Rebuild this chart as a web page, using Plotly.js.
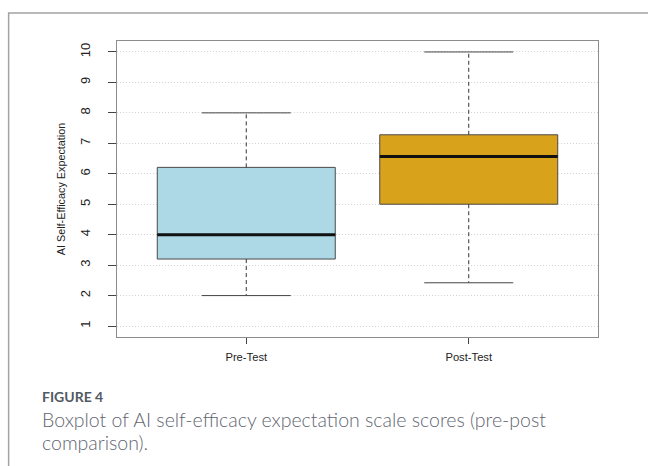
<!DOCTYPE html>
<html>
<head>
<meta charset="utf-8">
<script src="https://cdn.plot.ly/plotly-3.0.1.min.js"></script>
<style>html,body{margin:0;padding:0;background:#fff;}#chart{width:648px;height:466px;}</style>
</head>
<body>
<div id="chart"></div>
<script>
// ---- data ----
const categories = ["Pre-Test", "Post-Test"];
const lowerWhisker = [2.0, 2.42];
const q1Values = [3.2, 5.0];
const medianValues = [4.0, 6.57];
const q3Values = [6.21, 7.28];
const upperWhisker = [8.0, 10.0];
const yTickValues = [1, 2, 3, 4, 5, 6, 7, 8, 9, 10];
const boxColors = ["#ADD8E6", "#D9A21B"];

const xPos = categories.map((c, i) => i);
const BOX_HALF = 0.4, CAP_HALF = 0.2;
const traces = [];

// boxes (whiskers drawn separately so they can be dashed)
categories.forEach((c, i) => {
  traces.push({
    type: "box",
    x: [xPos[i]],
    q1: [q1Values[i]],
    median: [medianValues[i]],
    q3: [q3Values[i]],
    lowerfence: [q1Values[i]],
    upperfence: [q3Values[i]],
    width: 2 * BOX_HALF,
    fillcolor: boxColors[i],
    line: { color: "#4a4a4a", width: 1 },
    whiskerwidth: 0,
    boxpoints: false,
    hoverinfo: "skip",
    showlegend: false,
    name: c
  });
});

// dashed whiskers, caps and thick medians
const wx = [], wy = [];
const cx = [], cy = [];
const mx = [], my = [];
categories.forEach((c, i) => {
  const x = xPos[i];
  wx.push(x, x, null, x, x, null);
  wy.push(q3Values[i], upperWhisker[i], null, q1Values[i], lowerWhisker[i], null);
  cx.push(x - CAP_HALF, x + CAP_HALF, null, x - CAP_HALF, x + CAP_HALF, null);
  cy.push(upperWhisker[i], upperWhisker[i], null, lowerWhisker[i], lowerWhisker[i], null);
  mx.push(x - BOX_HALF, x + BOX_HALF, null);
  my.push(medianValues[i], medianValues[i], null);
});
traces.push({ type: "scatter", mode: "lines", x: wx, y: wy, line: { color: "#333", width: 1, dash: "4px,3px" }, hoverinfo: "skip", showlegend: false });
traces.push({ type: "scatter", mode: "lines", x: cx, y: cy, line: { color: "#444", width: 1 }, hoverinfo: "skip", showlegend: false });
traces.push({ type: "scatter", mode: "lines", x: mx, y: my, line: { color: "#111", width: 3 }, hoverinfo: "skip", showlegend: false });

const L = 117, R = 597.7, T = 40.7, B = 337.3;
const W = 648, H = 466;
const px2x = p => (p - L) / (R - L);
const px2y = p => (B - p) / (B - T);

const chartFont = "Liberation Sans, Arial, Helvetica, sans-serif";
const capFont = "Lato, Open Sans, sans-serif";

const layout = {
  width: W, height: H,
  margin: { l: L, r: W - R, t: T, b: H - B, pad: 0 },
  paper_bgcolor: "#fff",
  plot_bgcolor: "#fff",
  boxmode: "overlay",
  showlegend: false,
  xaxis: {
    range: [-0.581, 1.581],
    tickmode: "array",
    tickvals: xPos,
    ticktext: categories,
    ticks: "outside", ticklen: 6, tickcolor: "#444", tickwidth: 1,
    showgrid: false, zeroline: false,
    showline: true, mirror: true, linecolor: "#8c8c8c", linewidth: 1,
    tickfont: { family: chartFont, size: 11.2, color: "#222" },
    ticklabelstandoff: 4,
    fixedrange: true
  },
  yaxis: {
    range: [0.64, 10.36],
    tickmode: "array",
    tickvals: yTickValues,
    ticktext: yTickValues.map(String),
    tickangle: -90,
    ticks: "outside", ticklen: 8, tickcolor: "#444", tickwidth: 1,
    showgrid: true, gridcolor: "#d4d4d4", griddash: "1px,2px", gridwidth: 1,
    zeroline: false,
    showline: true, mirror: true, linecolor: "#8c8c8c", linewidth: 1,
    tickfont: { family: chartFont, size: 13, color: "#222" },
    ticklabelstandoff: 13,
    title: { text: "AI Self-Efficacy Expectation", font: { family: chartFont, size: 10.8, color: "#222" }, standoff: 10 },
    fixedrange: true
  },
  shapes: [
    { type: "path", xref: "paper", yref: "paper",
      path: `M ${px2x(8.7)} ${px2y(H + 10)} L ${px2x(8.7)} ${px2y(12.7)} L ${px2x(W + 10)} ${px2y(12.7)}`,
      line: { color: "#a3a3a3", width: 1.5 } }
  ],
  annotations: [
    { xref: "paper", yref: "paper", x: px2x(40), y: px2y(396.7), xanchor: "left", yanchor: "middle",
      text: "FIGURE 4", showarrow: false,
      font: { family: capFont, size: 14, color: "#525963", weight: 700 } },
    { xref: "paper", yref: "paper", x: px2x(40), y: px2y(420), xanchor: "left", yanchor: "middle",
      text: "Boxplot of AI self-efficacy expectation scale scores (pre-post", showarrow: false,
      font: { family: capFont, size: 19.5, color: "#5f6671", weight: 300 } },
    { xref: "paper", yref: "paper", x: px2x(40), y: px2y(443.5), xanchor: "left", yanchor: "middle",
      text: "comparison).", showarrow: false,
      font: { family: capFont, size: 19.5, color: "#5f6671", weight: 300 } }
  ]
};

Plotly.newPlot("chart", traces, layout, { displayModeBar: false, staticPlot: true });
</script>
</body>
</html>
